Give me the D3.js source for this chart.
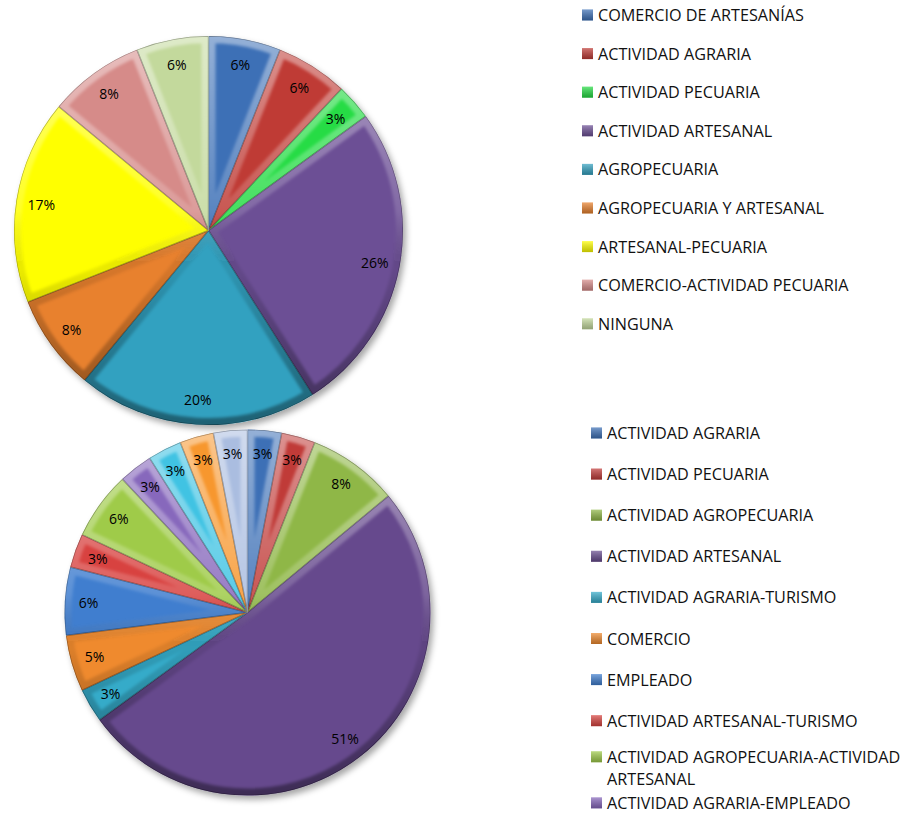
<!DOCTYPE html>
<html><head><meta charset="utf-8">
<script src="https://cdn.jsdelivr.net/npm/d3@7"></script>
<style>body{margin:0;background:#fff}svg{display:block}text{font-family:"Open Sans",sans-serif}</style>
</head><body>
<script>
// ---- data: top chart ----
const topCategories = ["COMERCIO DE ARTESANÍAS","ACTIVIDAD AGRARIA","ACTIVIDAD PECUARIA","ACTIVIDAD ARTESANAL","AGROPECUARIA","AGROPECUARIA Y ARTESANAL","ARTESANAL-PECUARIA","COMERCIO-ACTIVIDAD PECUARIA","NINGUNA"];
const topValues = [6,6,3,26,20,8,17,8,6];
const topColors = ["#3d70b6","#bf3b36","#26dc44","#6c4f95","#33a1c0","#e8812d","#ffff00","#d68b89","#c3d99c"];
// ---- data: bottom chart ----
const bottomCategories = ["ACTIVIDAD AGRARIA","ACTIVIDAD PECUARIA","ACTIVIDAD AGROPECUARIA","ACTIVIDAD ARTESANAL","ACTIVIDAD AGRARIA-TURISMO","COMERCIO","EMPLEADO","ACTIVIDAD ARTESANAL-TURISMO","ACTIVIDAD AGROPECUARIA-ACTIVIDAD ARTESANAL","ACTIVIDAD AGRARIA-EMPLEADO","ACTIVIDAD PECUARIA-TURISMO","COMERCIO-ACTIVIDAD ARTESANAL","OTROS"];
const bottomValues = [3,3,8,51,3,5,6,3,6,3,3,3,3];
const bottomColors = ["#3d70b6","#c03a38","#8fb746","#664a8d","#35abc9","#ef8a2f","#3f7ecf","#d8433f","#9fcb49","#8767bc","#3fc3e3","#f7972f","#aabde0"];

const W = 908, H = 813;
const svg = d3.select("body").append("svg").attr("width", W).attr("height", H);
const defs = svg.append("defs");

const sh = defs.append("filter").attr("id","shadow").attr("x","-20%").attr("y","-20%").attr("width","150%").attr("height","150%");
sh.append("feDropShadow").attr("dx",3).attr("dy",4).attr("stdDeviation",3).attr("flood-color","#000").attr("flood-opacity",0.35);
const bl = defs.append("filter").attr("id","soft");
bl.append("feGaussianBlur").attr("stdDeviation",1.8);

function bevelGrad(id, y0, y1){
  const g = defs.append("linearGradient").attr("id", id).attr("gradientUnits","userSpaceOnUse")
    .attr("x1",0).attr("x2",0).attr("y1",y0).attr("y2",y1);
  g.append("stop").attr("offset","0%").attr("stop-color","#fff").attr("stop-opacity",0.45);
  g.append("stop").attr("offset","45%").attr("stop-color","#fff").attr("stop-opacity",0.15);
  g.append("stop").attr("offset","60%").attr("stop-color","#000").attr("stop-opacity",0.08);
  g.append("stop").attr("offset","100%").attr("stop-color","#000").attr("stop-opacity",0.4);
}

function drawPie(key, cats, vals, colors, cx, cy, r){
  const pie = d3.pie().sort(null).value(d => d.v);
  const data = pie(cats.map((c,i) => ({c, v: vals[i], col: colors[i]})));
  const arc = d3.arc().innerRadius(0).outerRadius(r);
  const labelArc = d3.arc().innerRadius(r*0.87).outerRadius(r*0.87);
  bevelGrad("bev-"+key, -r, r);
  const g = svg.append("g").attr("transform", `translate(${cx},${cy})`);
  const base = g.append("g").attr("filter","url(#shadow)");
  base.selectAll("path").data(data).join("path").attr("d", arc).attr("fill", d => d.data.col);
  data.forEach((d,i) => {
    const id = `clip-${key}-${i}`;
    defs.append("clipPath").attr("id", id).append("path").attr("d", arc(d));
    const cg = g.append("g").attr("clip-path", `url(#${id})`);
    cg.append("path").attr("d", arc(d)).attr("fill","none")
      .attr("stroke", `url(#bev-${key})`).attr("stroke-width", 14).attr("filter","url(#soft)");
    cg.append("path").attr("d", arc(d)).attr("fill","none")
      .attr("stroke","rgba(0,0,0,0.3)").attr("stroke-width", 1.4);
  });
  g.selectAll("text.lbl").data(data).join("text").attr("class","lbl")
    .attr("transform", d => `translate(${labelArc.centroid(d)})`)
    .attr("text-anchor","middle").attr("dominant-baseline","central")
    .attr("font-size", 14).attr("fill","#000")
    .text(d => d.data.v + "%");
}

function drawLegend(key, cats, colors, x, y0, step, maxW){
  const g = svg.append("g");
  const lg = defs.append("linearGradient").attr("id","lgm-"+key).attr("x1",0).attr("x2",0).attr("y1",0).attr("y2",1);
  lg.append("stop").attr("offset","0%").attr("stop-color","#fff").attr("stop-opacity",0.3);
  lg.append("stop").attr("offset","100%").attr("stop-color","#000").attr("stop-opacity",0.25);
  cats.forEach((c,i) => {
    const y = y0 + i*step;
    if (y > H - 6) return; // legend is clipped by the chart area, as in the original
    const gi = g.append("g");
    gi.append("rect").attr("x", x).attr("y", y-5.5).attr("width", 11).attr("height", 11).attr("fill", colors[i]);
    gi.append("rect").attr("x", x).attr("y", y-5.5).attr("width", 11).attr("height", 11).attr("fill", `url(#lgm-${key})`);
    const t = gi.append("text").attr("x", x+16).attr("y", y).attr("dominant-baseline","central")
      .attr("font-size", 16.2).attr("fill","#111");
    const words = c.split(" ");
    let line = [], nLines = 1;
    let ts = t.append("tspan").attr("x", x+16).attr("dy", 0);
    words.forEach(w => {
      line.push(w); ts.text(line.join(" "));
      if (ts.node().getComputedTextLength() > maxW && line.length > 1) {
        line.pop(); ts.text(line.join(" "));
        line = [w]; nLines++;
        ts = t.append("tspan").attr("x", x+16).attr("dy", 22).text(w);
      }
    });
    if (nLines > 1) gi.attr("transform", "translate(0,-5)");
  });
}

drawPie("top", topCategories, topValues, topColors, 208.5, 230.5, 194.5);
drawPie("bot", bottomCategories, bottomValues, bottomColors, 247.5, 612.5, 183);
drawLegend("top", topCategories, topColors, 582, 15, 38.6, 310);
drawLegend("bot", bottomCategories, bottomColors, 591, 433, 41.1, 302);
</script>
</body></html>
